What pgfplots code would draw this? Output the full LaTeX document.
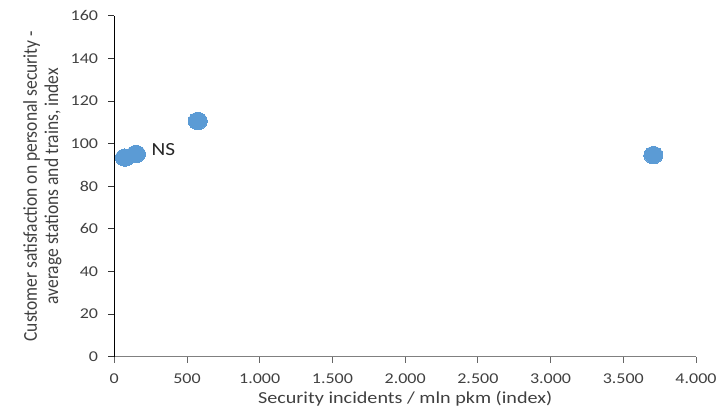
\documentclass[border=0pt]{standalone}
\usepackage{pgfplots}
\pgfplotsset{compat=1.18}
\usepackage{fontspec}
\setmainfont{Carlito}
\definecolor{pt}{HTML}{5B9BD5}
\definecolor{txt}{HTML}{404040}
\begin{document}
\begin{tikzpicture}[x=1pt,y=1pt]
\path[use as bounding box] (0,0) rectangle (724,413);
\begin{axis}[
  scale only axis,
  width=581.7pt, height=341pt,
  at={(114.3pt,56.3pt)}, anchor=south west,
  xmin=0, xmax=4000, ymin=0, ymax=160,
  xtick={0,500,...,4000}, ytick={0,20,...,160},
  axis x line*=bottom, axis y line*=left,
  x axis line style={draw=black!50, line width=0.8pt, -},
  y axis line style={draw=black, line width=0.8pt, -},
  tick align=outside,
  major tick length=6pt,
  xtick style={draw=black!60, line width=0.8pt},
  ytick style={draw=black!80, line width=0.8pt},
  /pgf/number format/.cd, 1000 sep={.}, assume math mode=true,
  /pgfplots/.cd,
  ticklabel style={font=\fontsize{15}{18}\selectfont, text=txt, xscale=1.2},
  xticklabel style={yshift=-8pt},
  yticklabel style={xshift=-5pt},
  xlabel={Security incidents / mln pkm (index)},
  ylabel={Customer satisfaction on personal security -\\average stations and trains, index},
  xlabel style={at={(axis description cs:0.5,-0.123)}, anchor=center, font=\fontsize{16.8}{20}\selectfont, text=txt, xscale=1.2},
  ylabel style={at={(axis description cs:-0.1238,0.5)}, anchor=center, font=\fontsize{17.5}{19}\selectfont, text=txt, align=center, yscale=1.12},
  clip=false,
]
\addplot[only marks, color=pt, mark=*, mark size=8.65pt, mark options={fill=pt, draw=pt, line width=0pt, xscale=1.11}]
  coordinates {(73,93.4) (149,95.1) (574,110.6) (3707,94.6)};
\node[anchor=west, font=\fontsize{18.5}{22}\selectfont, text=black!85, xscale=1.15] at (axis cs:149,95.1) [xshift=10pt, yshift=4.5pt] {NS};
\end{axis}
\end{tikzpicture}
\end{document}
